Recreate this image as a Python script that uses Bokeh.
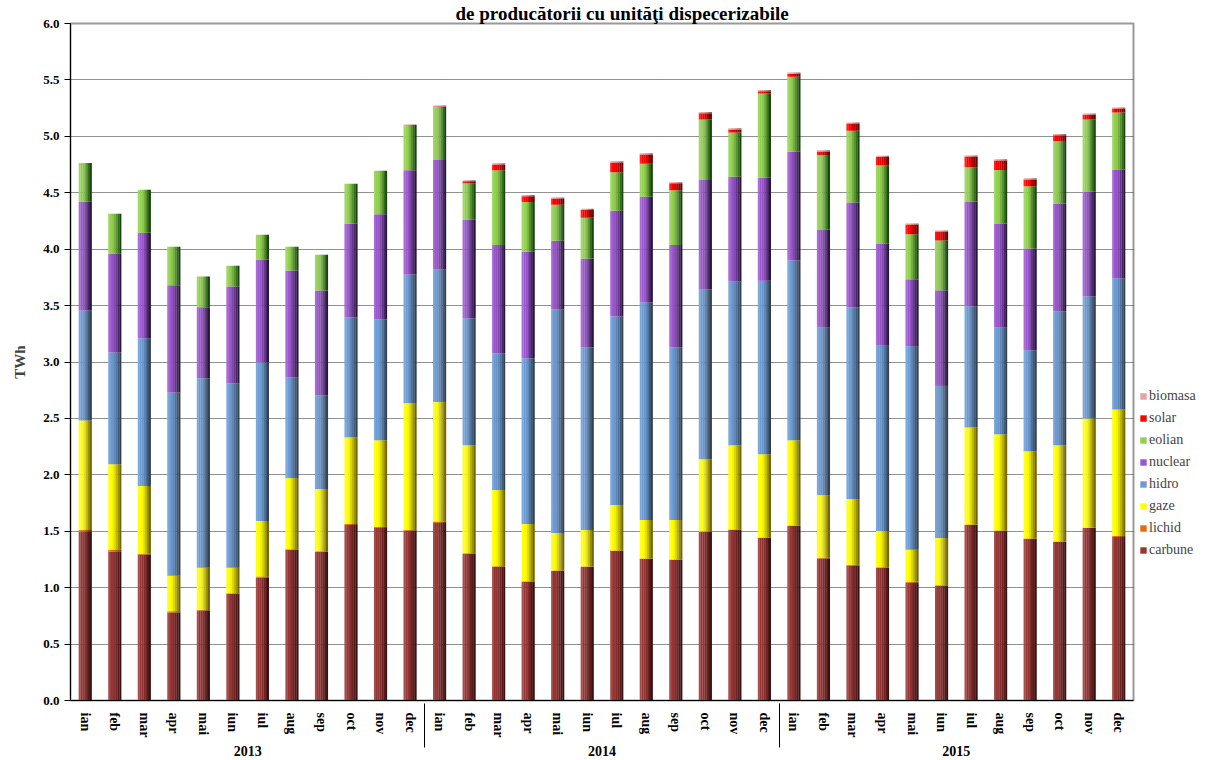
from bokeh.plotting import figure
from bokeh.models import (FactorRange, ColumnDataSource, Legend, LegendItem,
                          SingleIntervalTicker, NumeralTickFormatter, Range1d)
from bokeh.transform import dodge
from bokeh.embed import file_html
from bokeh.resources import INLINE

years = ["2013", "2014", "2015"]
months = ["ian", "feb", "mar", "apr", "mai", "iun", "iul", "aug", "sep", "oct", "nov", "dec"]

carbune = [1.494, 1.318, 1.294, 0.779, 0.797, 0.947, 1.088, 1.335, 1.318, 1.556, 1.529, 1.506,
           1.574, 1.300, 1.185, 1.053, 1.150, 1.185, 1.326, 1.256, 1.247, 1.494, 1.512, 1.441,
           1.547, 1.256, 1.194, 1.176, 1.044, 1.018, 1.556, 1.503, 1.432, 1.406, 1.529, 1.450]
lichid = [0.018, 0.018, 0.006, 0.012, 0.005, 0.003, 0.012, 0.005, 0.004, 0.009, 0.009, 0.005,
          0.012, 0.005, 0.005, 0.004, 0.003, 0.003, 0.003, 0.003, 0.003, 0.003, 0.003, 0.003,
          0.005, 0.010, 0.009, 0.004, 0.009, 0.004, 0.004, 0.003, 0.003, 0.003, 0.003, 0.009]
gaze = [0.970, 0.758, 0.600, 0.315, 0.374, 0.226, 0.491, 0.631, 0.552, 0.767, 0.768, 1.124,
        1.060, 0.957, 0.675, 0.508, 0.332, 0.324, 0.403, 0.341, 0.350, 0.641, 0.747, 0.738,
        0.754, 0.554, 0.582, 0.323, 0.282, 0.419, 0.860, 0.853, 0.774, 0.853, 0.968, 1.120]
hidro = [0.975, 0.991, 1.310, 1.624, 1.680, 1.636, 1.406, 0.894, 0.831, 1.063, 1.071, 1.140,
         1.173, 1.124, 1.212, 1.467, 1.980, 1.618, 1.672, 1.927, 1.530, 1.504, 1.451, 1.538,
         1.594, 1.489, 1.700, 1.647, 1.806, 1.347, 1.074, 0.950, 0.896, 1.188, 1.083, 1.163]
nuclear = [0.963, 0.875, 0.936, 0.950, 0.630, 0.857, 0.910, 0.945, 0.928, 0.830, 0.933, 0.925,
           0.971, 0.874, 0.960, 0.946, 0.610, 0.786, 0.936, 0.937, 0.907, 0.972, 0.928, 0.912,
           0.964, 0.866, 0.928, 0.901, 0.592, 0.847, 0.928, 0.919, 0.902, 0.954, 0.927, 0.963]
eolian = [0.344, 0.354, 0.380, 0.342, 0.271, 0.185, 0.221, 0.212, 0.317, 0.354, 0.384, 0.400,
          0.469, 0.325, 0.663, 0.439, 0.318, 0.362, 0.342, 0.292, 0.486, 0.536, 0.394, 0.748,
          0.663, 0.659, 0.636, 0.692, 0.400, 0.442, 0.303, 0.474, 0.550, 0.554, 0.639, 0.506]
solar = [0.0, 0.0, 0.0, 0.0, 0.0, 0.0, 0.0, 0.0, 0.0, 0.0, 0.0, 0.0,
         0.005, 0.016, 0.050, 0.052, 0.055, 0.070, 0.087, 0.084, 0.061, 0.055, 0.026, 0.020,
         0.028, 0.032, 0.064, 0.075, 0.085, 0.079, 0.096, 0.084, 0.061, 0.052, 0.043, 0.035]
biomasa = [0.0, 0.0, 0.0, 0.0, 0.0, 0.0, 0.0, 0.0, 0.0, 0.0, 0.0, 0.004,
           0.010, 0.010, 0.011, 0.010, 0.010, 0.010, 0.010, 0.010, 0.010, 0.010, 0.010, 0.010,
           0.010, 0.010, 0.010, 0.010, 0.010, 0.010, 0.010, 0.010, 0.010, 0.010, 0.010, 0.010]

series = ["carbune", "lichid", "gaze", "hidro", "nuclear", "eolian", "solar", "biomasa"]
base_colors = {"carbune": "#963634", "lichid": "#E46C0A", "gaze": "#FFFF00", "hidro": "#6C9BD4",
               "nuclear": "#9B57CD", "eolian": "#92D050", "solar": "#FF0000", "biomasa": "#E6A3A3"}
dark_colors = {"carbune": "#2a0a0a", "lichid": "#5a2000", "gaze": "#5a4a00", "hidro": "#26323d",
               "nuclear": "#140a26", "eolian": "#003000", "solar": "#500000", "biomasa": "#8a5050"}

FONT = "Liberation Serif"


def hex2rgb(h):
    h = h.lstrip("#")
    return tuple(int(h[i:i + 2], 16) for i in (0, 2, 4))


def mix(c1, c2, t):
    a, b = hex2rgb(c1), hex2rgb(c2)
    return "#%02x%02x%02x" % tuple(int(round(a[i] + (b[i] - a[i]) * t)) for i in range(3))


def shade(name, s):
    if s < 0:
        return mix(base_colors[name], "#ffffff", -s)
    return mix(base_colors[name], dark_colors[name], s)


factors = [(y, m) for y in years for m in months]
src = ColumnDataSource(dict(x=factors, carbune=carbune, lichid=lichid, gaze=gaze, hidro=hidro,
                            nuclear=nuclear, eolian=eolian, solar=solar, biomasa=biomasa))

p = figure(x_range=FactorRange(*factors, group_padding=0, factor_padding=0, range_padding=0),
           y_range=Range1d(0, 6), frame_width=1063, frame_height=677,
           min_border_left=70, min_border_top=0, min_border_bottom=10, min_border_right=0,
           output_backend="svg", toolbar_location=None, background_fill_color="white",
           title="de producătorii cu unităţi dispecerizabile")

p.title.text_font = FONT
p.title.text_font_size = "19px"
p.title.text_font_style = "bold"
p.title.text_color = "black"
p.title.align = "left"
p.title.offset = 385
p.title.standoff = 0

W = 0.44
shades = [-0.12, 0.0, 0.05, 0.2, 0.4, 0.62, 0.85]
N = len(shades)
legend_renderers = None
for k, s in enumerate(shades):
    off = -W / 2 + (k + 0.5) * W / N
    rs = p.vbar_stack(series, x=dodge("x", off, range=p.x_range), width=W / N + 0.006,
                      fill_color=[shade(n, s) for n in series], line_color=None, source=src)
    if k == 1:
        legend_renderers = rs

# axes
p.yaxis.ticker = SingleIntervalTicker(interval=0.5)
p.yaxis.formatter = NumeralTickFormatter(format="0.0")
p.yaxis.minor_tick_line_color = None
p.yaxis.major_tick_out = 6
p.yaxis.major_tick_in = 0
p.yaxis.axis_line_color = "black"
p.yaxis.major_label_text_font = FONT
p.yaxis.major_label_text_font_style = "bold"
p.yaxis.major_label_text_font_size = "13px"
p.yaxis.major_label_text_color = "black"
p.yaxis.axis_label = "TWh"
p.yaxis.axis_label_text_font = FONT
p.yaxis.axis_label_text_font_style = "bold"
p.yaxis.axis_label_text_font_size = "15px"
p.yaxis.axis_label_standoff = 12

p.xaxis.major_label_orientation = "vertical"
p.xaxis.major_label_text_font = FONT
p.xaxis.major_label_text_font_style = "bold"
p.xaxis.major_label_text_font_size = "14px"
p.xaxis.major_label_text_color = "black"
p.xaxis.group_text_font = FONT
p.xaxis.group_text_font_style = "bold"
p.xaxis.group_text_font_size = "14px"
p.xaxis.group_text_color = "black"
p.xaxis.major_tick_line_color = None
p.xaxis.minor_tick_line_color = None
p.xaxis.axis_line_color = "black"
p.xaxis.separator_line_color = "black"
p.xaxis.separator_line_width = 1
p.xaxis.major_label_standoff = 6

p.xgrid.grid_line_color = None
p.ygrid.grid_line_color = "#222222"
p.ygrid.grid_line_dash = "1 1"
p.ygrid.grid_line_width = 1

p.outline_line_color = "#999999"
p.outline_line_width = 2

items = [LegendItem(label=n, renderers=[legend_renderers[series.index(n)]]) for n in reversed(series)]
legend = Legend(items=items, location=(6, 142), border_line_color=None, background_fill_alpha=0,
                label_text_font=FONT, label_text_font_size="14px", glyph_height=8, glyph_width=8,
                label_standoff=2, spacing=6, padding=0, margin=4, label_height=14)
p.add_layout(legend, "right")

open("out.html", "w").write(file_html(p, INLINE))
